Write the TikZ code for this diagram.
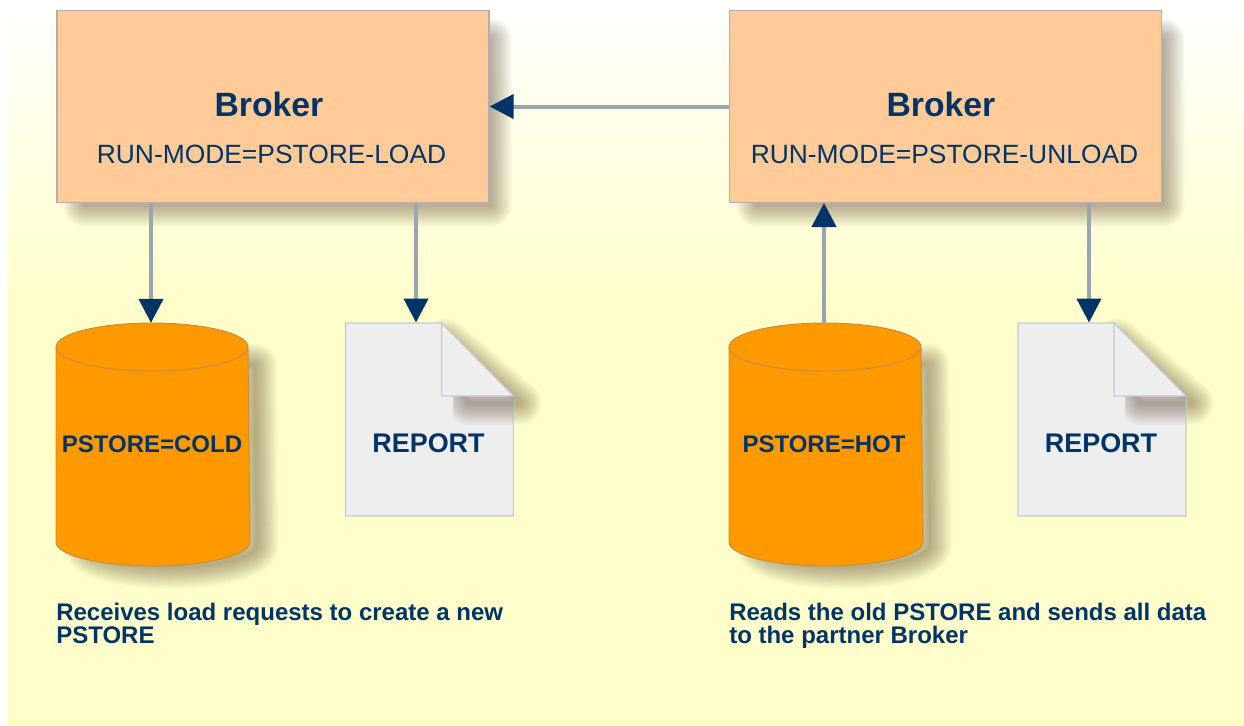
\documentclass[tikz,border=0pt]{standalone}
\usepackage{fontspec}
\setmainfont{Liberation Sans}
\usetikzlibrary{arrows.meta}
\definecolor{navy}{HTML}{003366}
\definecolor{linegray}{HTML}{99A6B2}
\definecolor{boxfill}{HTML}{FFCC99}
\definecolor{boxedge}{HTML}{B8ACA8}
\definecolor{cylfill}{HTML}{FF9900}
\definecolor{cyledge}{HTML}{C98A3A}
\definecolor{docfill}{HTML}{EEEEEE}
\definecolor{docedge}{HTML}{C4C8D8}
\definecolor{paper}{HTML}{FFFFCC}
\definecolor{shadowtone}{HTML}{4A3018}
\newcommand{\softshadow}[1]{%
  \foreach \w in {44,42,...,2}{
    \draw[shadowtone,draw opacity=0.02,line width=\w*0.75pt,line join=round] #1;
  }}
\tikzset{
  x=0.75pt,y=-0.75pt,
  brokerbox/.style={rectangle,draw=boxedge,line width=0.9pt,fill=boxfill,minimum width=324pt,minimum height=144pt,inner sep=0pt},
  slot/.style={rectangle,inner sep=0pt},
  storelabel/.style={text=navy,inner sep=0pt,font=\bfseries\fontsize{18}{20}\selectfont},
  reportlabel/.style={text=navy,inner sep=0pt,font=\bfseries\fontsize{20.2}{22}\selectfont},
  flow/.style={draw=linegray,line width=3pt,-{Triangle[color=navy,fill=navy,length=18pt,width=18pt]}},
  caption/.style={anchor=north west,inner sep=0pt,text=navy,align=left,font=\bfseries\fontsize{18}{17.4}\selectfont},
  title/.style={text=navy,inner sep=0pt,font=\bfseries\fontsize{25.3}{27}\selectfont},
  mode/.style={text=navy,inner sep=0pt,font=\fontsize{19.8}{22}\selectfont},
}
\newcommand{\cylbody}[1]{(#1,347) arc[start angle=180,end angle=360,x radius=96,y radius=24] -- ++(2,195) arc[start angle=0,end angle=180,x radius=97,y radius=24] -- cycle}
\newcommand{\docbody}[1]{(#1,323) -- ++(96,0) -- ++(72,73) -- ++(0,120) -- ++(-168,0) -- cycle}
\begin{document}
\begin{tikzpicture}
\useasboundingbox (0,0) rectangle (1244,725);
\fill[white] (0,0) rectangle (1244,725);
\shade[top color=white,bottom color=paper] (8,0) rectangle (1244,300);
\fill[paper] (8,299) rectangle (1244,725);
% shadows
\softshadow{(85,40) rectangle (490,205)}
\softshadow{(758,40) rectangle (1163,205)}
\softshadow{(85,365) -- (255,365) -- (257,545) arc[start angle=0,end angle=180,x radius=86,y radius=22] -- cycle}
\softshadow{(758,365) -- (928,365) -- (930,545) arc[start angle=0,end angle=180,x radius=86,y radius=22] -- cycle}
\softshadow{(446,340) -- (520,403) -- (468,403) -- cycle}
\softshadow{(1118,340) -- (1192,403) -- (1140,403) -- cycle}
% brokers
\node[brokerbox] (b1) at (273,106.5) {};
\node[brokerbox] (b2) at (945.5,106.5) {};
\node[title] (t1) at (269,104) {Broker};
\node[mode] (m1) at (271.5,154.5) {RUN-MODE=PSTORE-LOAD};
\node[title] (t2) at (941,104) {Broker};
\node[mode] (m2) at (944.5,154.5) {RUN-MODE=PSTORE-UNLOAD};
% cylinders
\fill[cylfill,draw=cyledge,line width=0.7pt] \cylbody{56};
\draw[cyledge,line width=0.7pt] (56,347) arc[start angle=180,end angle=0,x radius=96,y radius=24];
\fill[cylfill,draw=cyledge,line width=0.7pt] \cylbody{729};
\draw[cyledge,line width=0.7pt] (729,347) arc[start angle=180,end angle=0,x radius=96,y radius=24];
\node[slot,minimum width=144pt,minimum height=182pt] (c1) at (152,444.5) {};
\node[slot,minimum width=144pt,minimum height=182pt] (c2) at (825,444.5) {};
\node[storelabel] (cl1) at (152,444) {PSTORE=COLD};
\node[storelabel] (cl2) at (824,444) {PSTORE=HOT};
% documents
\fill[docfill,draw=docedge,line width=0.8pt] \docbody{345.5};
\fill[docfill,draw=docedge,line width=0.8pt] \docbody{1018};
\begin{scope}
\clip (453,396) rectangle (513,430);
\softshadow{(446,340) -- (520,403) -- (468,403) -- cycle}
\end{scope}
\begin{scope}
\clip (1125,396) rectangle (1185.5,430);
\softshadow{(1118,340) -- (1192,403) -- (1140,403) -- cycle}
\end{scope}
\fill[docfill,draw=docedge,line width=0.8pt] (441.5,323) -- (441.5,396) -- (513.5,396) -- cycle;
\fill[docfill,draw=docedge,line width=0.8pt] (1114,323) -- (1114,396) -- (1186,396) -- cycle;
\node[slot,minimum width=126pt,minimum height=145pt] (d1) at (429.5,419.5) {};
\node[slot,minimum width=126pt,minimum height=145pt] (d2) at (1102,419.5) {};
\node[reportlabel] (r1) at (428.5,443) {REPORT};
\node[reportlabel] (r2) at (1101,443) {REPORT};
% captions
\node[caption] (n1) at (56,603) {Receives load requests to create a new\\PSTORE};
\node[caption] (n2) at (729,603) {Reads the old PSTORE and sends all data\\to the partner Broker};
% connector ends
\coordinate (a1) at (151,203);
\coordinate (a2) at (416,203);
\coordinate (a3) at (1089,203);
\coordinate (a4) at (824,203);
\draw[flow] (b2.west) -- (b1.east);
\draw[flow] (a1) -- (a1 |- c1.north);
\draw[flow] (a2) -- (a2 |- d1.north);
\draw[flow] (a3) -- (a3 |- d2.north);
\draw[flow] (a4 |- c2.north) -- (a4);
\end{tikzpicture}
\end{document}
